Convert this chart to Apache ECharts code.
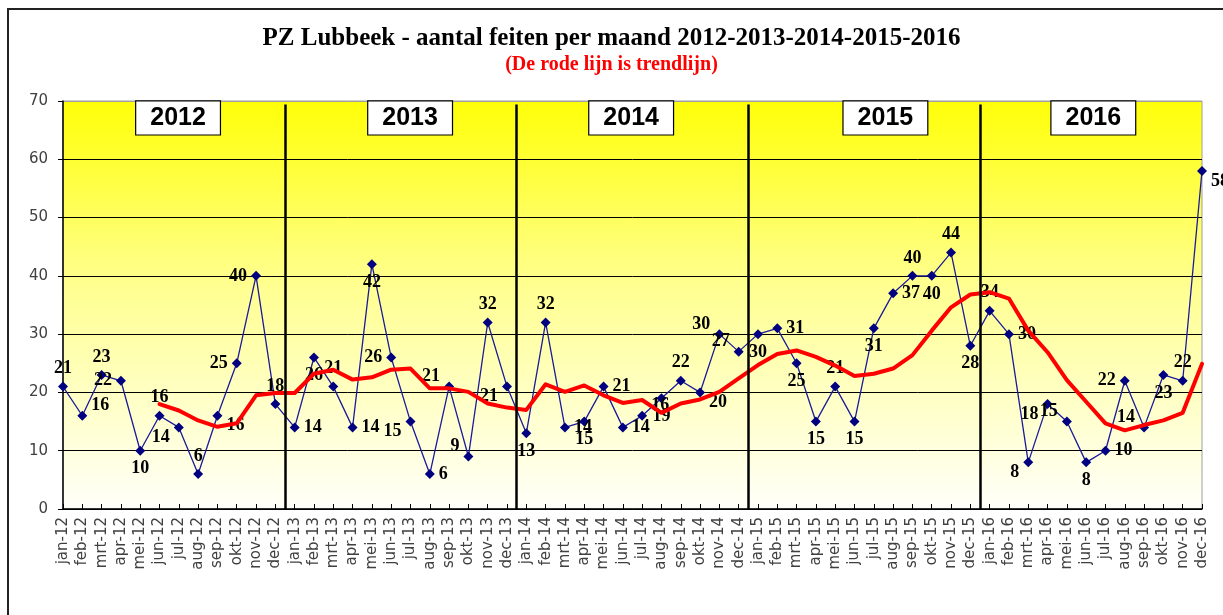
<!DOCTYPE html>
<html>
<head>
<meta charset="utf-8">
<script src="https://cdn.jsdelivr.net/npm/echarts@6/dist/echarts.min.js"></script>
<style>
  html, body { margin: 0; padding: 0; background: #fff; }
  #chart { width: 1223px; height: 615px; }
</style>
</head>
<body>
<div id="chart"></div>
<script>
// maanden, jaren en waarden
var months = ['jan', 'feb', 'mrt', 'apr', 'mei', 'jun', 'jul', 'aug', 'sep', 'okt', 'nov', 'dec'];
var years = ['2012', '2013', '2014', '2015', '2016'];

var feiten2012 = [21, 16, 23, 22, 10, 16, 14, 6, 16, 25, 40, 18];
var feiten2013 = [14, 26, 21, 14, 42, 26, 15, 6, 21, 9, 32, 21];
var feiten2014 = [13, 32, 14, 15, 21, 14, 16, 19, 22, 20, 30, 27];
var feiten2015 = [30, 31, 25, 15, 21, 15, 31, 37, 40, 40, 44, 28];
var feiten2016 = [34, 30, 8, 18, 15, 8, 10, 22, 14, 23, 22, 58];

// rode trendlijn (begint in jun-12)
var trendlijn = [
    null, null, null, null, null, 18.0, 16.9, 15.2, 14.1, 14.7, 19.5, 19.9,
    19.9, 23.2, 23.9, 22.2, 22.6, 23.9, 24.1, 20.7, 20.7, 20.1, 18.1, 17.4,
    17.0, 21.4, 20.1, 21.2, 19.5, 18.2, 18.7, 16.5, 18.1, 18.8, 20.1, 22.4,
    24.7, 26.6, 27.2, 26.1, 24.6, 22.8, 23.2, 24.1, 26.4, 30.6, 34.6, 36.8,
    37.2, 36.1, 30.6, 26.9, 22.1, 18.4, 14.7, 13.5, 14.4, 15.2, 16.5, 24.9
];

var yTicks = [0, 10, 20, 30, 40, 50, 60, 70];

// plaats van de labels bij elk punt
var labelPlaats = [
    't', 'tr', 't', 'l', 'b', 't', 'bl', 't', 'br', 'l', 'l', 't',
    'r', 'b', 't', 'r', 'b', 'l', 'bl', 'r', 'tl', 'tl', 't', 'bl',
    'b', 't', 'r', 'b', 'r', 'r', 'tr', 'b', 't', 'br', 'tl', 'tl',
    'b', 'r', 'b', 'b', 't', 'b', 'b', 'r', 't', 'b', 't', 'b',
    't', 'r', 'bl', 'bl', 'tl', 'b', 'r', 'l', 'tl', 'b', 't', 'br'
];
// plaats van de jaarvakjes (in maand-index)
var jaarPlaats = [5.96, 17.98, 29.43, 42.6, 53.37];

var categories = [];
years.forEach(function(y) {
    months.forEach(function(m) {
        categories.push(m + '-' + y.slice(2));
    });
});
var feiten = [].concat(feiten2012, feiten2013, feiten2014, feiten2015, feiten2016);

var posMap = {
    t: { position: 'top', offset: [0, 0] },
    b: { position: 'bottom', offset: [0, 0] },
    l: { position: 'left', offset: [0, 0] },
    r: { position: 'right', offset: [0, 0] },
    tl: { position: 'left', offset: [0, -10] },
    tr: { position: 'right', offset: [0, -10] },
    bl: { position: 'left', offset: [0, 10] },
    br: { position: 'right', offset: [0, 10] }
};

var feitenData = feiten.map(function(v, i) {
    var p = posMap[labelPlaats[i]];
    return { value: v, label: { position: p.position, offset: p.offset } };
});

var jaarData = years.map(function(y, i) {
    return { value: [jaarPlaats[i], 67.1], name: y };
});

var scheidingen = years.slice(1).map(function(y, i) {
    var x = (i + 1) * 12 - 0.5;
    return [{ coord: [x, 69.4] }, { coord: [x, 0] }];
});

var chart = echarts.init(document.getElementById('chart'));

var option = {
    animation: false,
    title: [{
        text: 'PZ Lubbeek - aantal feiten per maand 2012-2013-2014-2015-2016',
        left: 'center',
        top: 21,
        textStyle: { fontFamily: 'Liberation Serif', fontWeight: 'bold', fontSize: 25, color: '#000' }
    }, {
        text: '(De rode lijn is trendlijn)',
        left: 'center',
        top: 50,
        textStyle: { fontFamily: 'Liberation Serif', fontWeight: 'bold', fontSize: 20, color: '#ff0000' }
    }],
    graphic: [{
        type: 'rect',
        shape: { x: 8, y: 9, width: 1240, height: 700 },
        style: { fill: 'none', stroke: '#222', lineWidth: 2 },
        silent: true
    }],
    grid: {
        left: 63,
        right: 21,
        top: 101,
        bottom: 106,
        show: true,
        borderColor: '#a0a0a0',
        borderWidth: 1,
        backgroundColor: {
            type: 'linear', x: 0, y: 0, x2: 0, y2: 1,
            colorStops: [
                { offset: 0, color: '#ffff08' },
                { offset: 0.45, color: '#ffff90' },
                { offset: 1, color: '#fffffa' }
            ]
        }
    },
    xAxis: [{
        type: 'category',
        data: categories,
        boundaryGap: false,
        axisLine: { lineStyle: { color: '#000', width: 1.5 } },
        axisTick: { inside: true, length: 5, lineStyle: { color: '#000' }, alignWithLabel: true },
        axisLabel: {
            rotate: 90,
            interval: 0,
            margin: 8,
            fontFamily: 'DejaVu Sans',
            fontSize: 15,
            color: '#404040'
        },
        splitLine: { show: false }
    }, {
        type: 'value',
        min: 0,
        max: 59,
        show: false
    }],
    yAxis: {
        type: 'value',
        min: yTicks[0],
        max: yTicks[yTicks.length - 1],
        interval: 10,
        axisLine: { show: true, lineStyle: { color: '#000', width: 1.5 } },
        axisTick: { show: true, length: 5, lineStyle: { color: '#000' } },
        axisLabel: { fontFamily: 'DejaVu Sans', fontSize: 15, color: '#404040', margin: 15 },
        splitLine: {
            show: true,
            lineStyle: { color: ['#000', '#000', '#000', '#000', '#000', '#000', '#000', '#a0a0a0'], width: 1 }
        }
    },
    series: [{
        name: 'scheiding',
        type: 'line',
        xAxisIndex: 1,
        data: [],
        markLine: {
            silent: true,
            symbol: 'none',
            label: { show: false },
            lineStyle: { color: '#000', width: 2.5, type: 'solid' },
            data: scheidingen
        }
    }, {
        name: 'feiten',
        type: 'line',
        data: feitenData,
        symbol: 'diamond',
        symbolSize: 10,
        itemStyle: { color: '#000080' },
        lineStyle: { color: '#1a1a9a', width: 1.3 },
        label: {
            show: true,
            distance: 4,
            fontFamily: 'Liberation Serif',
            fontWeight: 'bold',
            fontSize: 18,
            color: '#000'
        },
        z: 3
    }, {
        name: 'trendlijn',
        type: 'line',
        data: trendlijn,
        symbol: 'none',
        lineStyle: { color: '#ff0000', width: 4, join: 'round', cap: 'round' },
        z: 4
    }, {
        name: 'jaren',
        type: 'scatter',
        xAxisIndex: 1,
        data: jaarData,
        symbolSize: 0,
        itemStyle: { opacity: 1 },
        label: {
            show: true,
            position: 'inside',
            formatter: function(p) { return p.name; },
            fontFamily: 'Liberation Sans',
            fontWeight: 'bold',
            fontSize: 25,
            lineHeight: 25,
            color: '#000',
            backgroundColor: '#fff',
            borderColor: '#000',
            borderWidth: 1.2,
            padding: [4, 14]
        },
        z: 5
    }]
};

chart.setOption(option);
</script>
</body>
</html>
